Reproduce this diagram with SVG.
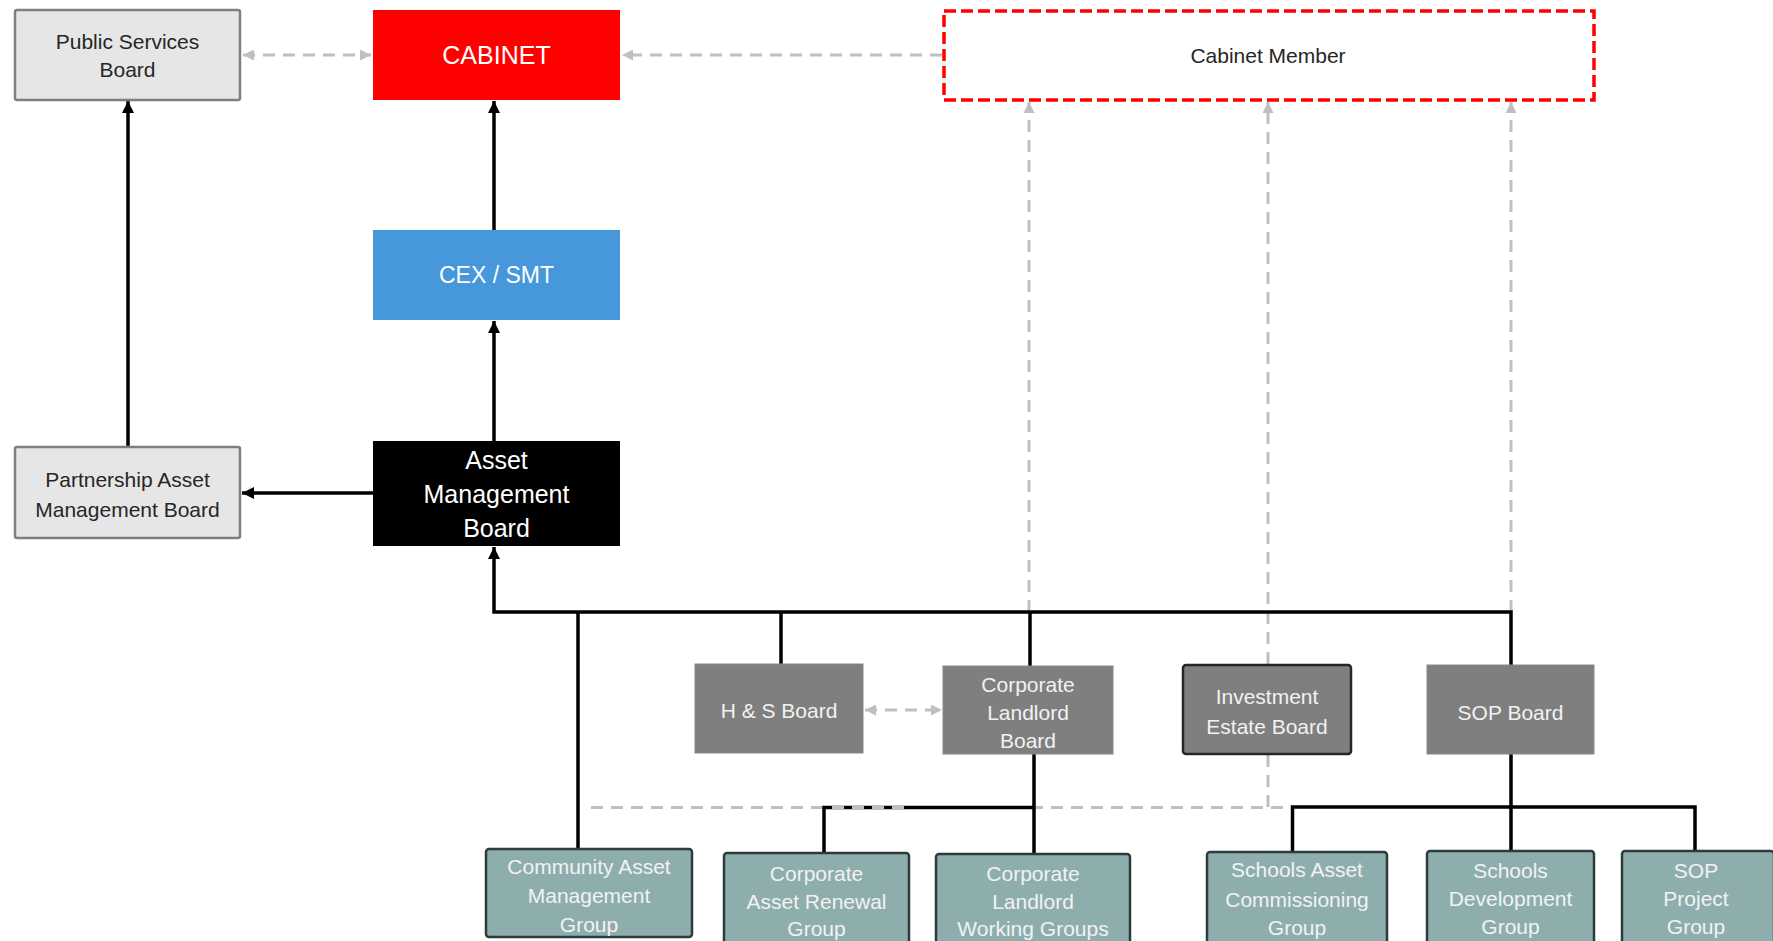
<svg xmlns="http://www.w3.org/2000/svg" width="1773" height="941" viewBox="0 0 1773 941">
  <style>
    text { font-family: "Liberation Sans", Arial, sans-serif; text-anchor: middle; }
    .light { fill: #e7e6e6; stroke: #7f7f7f; stroke-width: 2.5; }
    .grey { fill: #7f7f7f; stroke: #8a8a8a; stroke-width: 1; }
    .grey-dark { fill: #7f7f7f; stroke: #262626; stroke-width: 2.5; }
    .teal { fill: #8eaeae; stroke: #2f3a3a; stroke-width: 2.5; }
    .t-dark { fill: #262626; font-size: 21px; }
    .t-white { fill: #ffffff; }
    .t-soft { fill: #f2f2f2; font-size: 21px; }
    .solid { fill: none; stroke: #000000; stroke-width: 3.5; stroke-linejoin: miter; }
    .dash { fill: none; stroke: #bfbfbf; stroke-width: 3; stroke-dasharray: 12 8; }
  </style>
  <defs>
    <marker id="arrow-black" markerUnits="userSpaceOnUse" markerWidth="12" markerHeight="12" refX="12" refY="6" orient="auto">
      <path d="M0,0 L12,6 L0,12 z" fill="#000000"/>
    </marker>
    <marker id="arrow-grey" markerUnits="userSpaceOnUse" markerWidth="11" markerHeight="11" refX="11" refY="5.5" orient="auto-start-reverse">
      <path d="M0,0 L11,5.5 L0,11 z" fill="#bfbfbf"/>
    </marker>
  </defs>

  <rect width="1773" height="941" fill="#ffffff"/>

  <!-- connectors -->
  <g id="connectors">
    <!-- dotted reporting links -->
    <line class="dash" x1="243" y1="55" x2="371" y2="55" marker-start="url(#arrow-grey)" marker-end="url(#arrow-grey)"/>
    <line class="dash" x1="942" y1="55" x2="622" y2="55" marker-end="url(#arrow-grey)"/>
    <line class="dash" x1="1029" y1="612" x2="1029" y2="102" marker-end="url(#arrow-grey)"/>
    <line class="dash" x1="1268" y1="664" x2="1268" y2="102" marker-end="url(#arrow-grey)"/>
    <line class="dash" x1="1511" y1="612" x2="1511" y2="102" marker-end="url(#arrow-grey)"/>
    <line class="dash" x1="865" y1="710" x2="942" y2="710" marker-start="url(#arrow-grey)" marker-end="url(#arrow-grey)"/>
    <path class="dash" d="M1268,755 V807.5 M1283,807.5 H588"/>

    <!-- main reporting lines -->
    <line class="solid" x1="494" y1="230" x2="494" y2="101" marker-end="url(#arrow-black)"/>
    <line class="solid" x1="494" y1="441" x2="494" y2="321" marker-end="url(#arrow-black)"/>
    <line class="solid" x1="128" y1="447" x2="128" y2="101" marker-end="url(#arrow-black)"/>
    <line class="solid" x1="373" y1="493" x2="242" y2="493" marker-end="url(#arrow-black)"/>

    <!-- bus beneath the Asset Management Board -->
    <path class="solid" d="M1511,665 V612 H494 V547" marker-end="url(#arrow-black)"/>
    <line class="solid" x1="578" y1="612" x2="578" y2="849"/>
    <line class="solid" x1="781" y1="612" x2="781" y2="664"/>
    <line class="solid" x1="1030" y1="612" x2="1030" y2="666"/>

    <!-- Corporate Landlord sub-groups -->
    <path class="solid" d="M1034,754 V854 M1034,807.5 H824 V853"/>
    <path class="dash" d="M832,807.5 H906"/>

    <!-- SOP sub-groups -->
    <path class="solid" d="M1511,754 V851 M1292.5,852 V807 H1695 V851"/>
  </g>

  <!-- nodes -->
  <g id="public-services-board">
    <rect class="light" x="15" y="10" width="225" height="90" rx="2"/>
    <text class="t-dark" x="127.5" y="49">Public Services</text>
    <text class="t-dark" x="127.5" y="77">Board</text>
  </g>

  <g id="cabinet">
    <rect x="373" y="10" width="247" height="90" fill="#ff0000"/>
    <text class="t-white" x="496.5" y="64" font-size="25">CABINET</text>
  </g>

  <g id="cabinet-member">
    <rect x="944" y="11" width="650" height="89" fill="#ffffff" stroke="#ff0000" stroke-width="3.5" stroke-dasharray="12 5"/>
    <text class="t-dark" x="1268" y="63" font-size="21">Cabinet Member</text>
  </g>

  <g id="cex-smt">
    <rect x="373" y="230" width="247" height="90" fill="#4698da"/>
    <text class="t-white" x="496.5" y="283" font-size="23">CEX / SMT</text>
  </g>

  <g id="asset-management-board">
    <rect x="373" y="441" width="247" height="105" fill="#000000"/>
    <text class="t-white" x="496.5" y="469" font-size="25">Asset</text>
    <text class="t-white" x="496.5" y="503" font-size="25">Management</text>
    <text class="t-white" x="496.5" y="537" font-size="25">Board</text>
  </g>

  <g id="partnership-asset-management-board">
    <rect class="light" x="15" y="447" width="225" height="91" rx="2"/>
    <text class="t-dark" x="127.5" y="487" font-size="22">Partnership Asset</text>
    <text class="t-dark" x="127.5" y="516.5" font-size="22">Management Board</text>
  </g>

  <g id="hs-board">
    <rect class="grey" x="695" y="664" width="168" height="89"/>
    <text class="t-soft" x="779" y="717.5">H &amp; S Board</text>
  </g>

  <g id="corporate-landlord-board">
    <rect class="grey" x="943" y="666" width="170" height="88"/>
    <text class="t-soft" x="1028" y="692">Corporate</text>
    <text class="t-soft" x="1028" y="720">Landlord</text>
    <text class="t-soft" x="1028" y="748">Board</text>
  </g>

  <g id="investment-estate-board">
    <rect class="grey-dark" x="1183" y="665" width="168" height="89" rx="3"/>
    <text class="t-soft" x="1267" y="704">Investment</text>
    <text class="t-soft" x="1267" y="733.5">Estate Board</text>
  </g>

  <g id="sop-board">
    <rect class="grey" x="1427" y="665" width="167" height="89"/>
    <text class="t-soft" x="1510.5" y="719.5">SOP Board</text>
  </g>

  <g id="community-asset-management-group">
    <rect class="teal" x="486" y="849" width="206" height="88" rx="3"/>
    <text class="t-soft" x="589" y="874">Community Asset</text>
    <text class="t-soft" x="589" y="903">Management</text>
    <text class="t-soft" x="589" y="931.5">Group</text>
  </g>

  <g id="corporate-asset-renewal-group">
    <rect class="teal" x="724" y="853" width="185" height="95" rx="3"/>
    <text class="t-soft" x="816.5" y="880.5">Corporate</text>
    <text class="t-soft" x="816.5" y="908.5">Asset Renewal</text>
    <text class="t-soft" x="816.5" y="936">Group</text>
  </g>

  <g id="corporate-landlord-working-groups">
    <rect class="teal" x="936" y="854" width="194" height="95" rx="3"/>
    <text class="t-soft" x="1033" y="880.5">Corporate</text>
    <text class="t-soft" x="1033" y="908.5">Landlord</text>
    <text class="t-soft" x="1033" y="936">Working Groups</text>
  </g>

  <g id="schools-asset-commissioning-group">
    <rect class="teal" x="1207" y="852" width="180" height="95" rx="3"/>
    <text class="t-soft" x="1297" y="877">Schools Asset</text>
    <text class="t-soft" x="1297" y="907">Commissioning</text>
    <text class="t-soft" x="1297" y="934.5">Group</text>
  </g>

  <g id="schools-development-group">
    <rect class="teal" x="1427" y="851" width="167" height="96" rx="3"/>
    <text class="t-soft" x="1510.5" y="878">Schools</text>
    <text class="t-soft" x="1510.5" y="906">Development</text>
    <text class="t-soft" x="1510.5" y="934">Group</text>
  </g>

  <g id="sop-project-group">
    <rect class="teal" x="1622" y="851" width="152" height="96" rx="3"/>
    <text class="t-soft" x="1696" y="878">SOP</text>
    <text class="t-soft" x="1696" y="906">Project</text>
    <text class="t-soft" x="1696" y="934">Group</text>
  </g>
</svg>
